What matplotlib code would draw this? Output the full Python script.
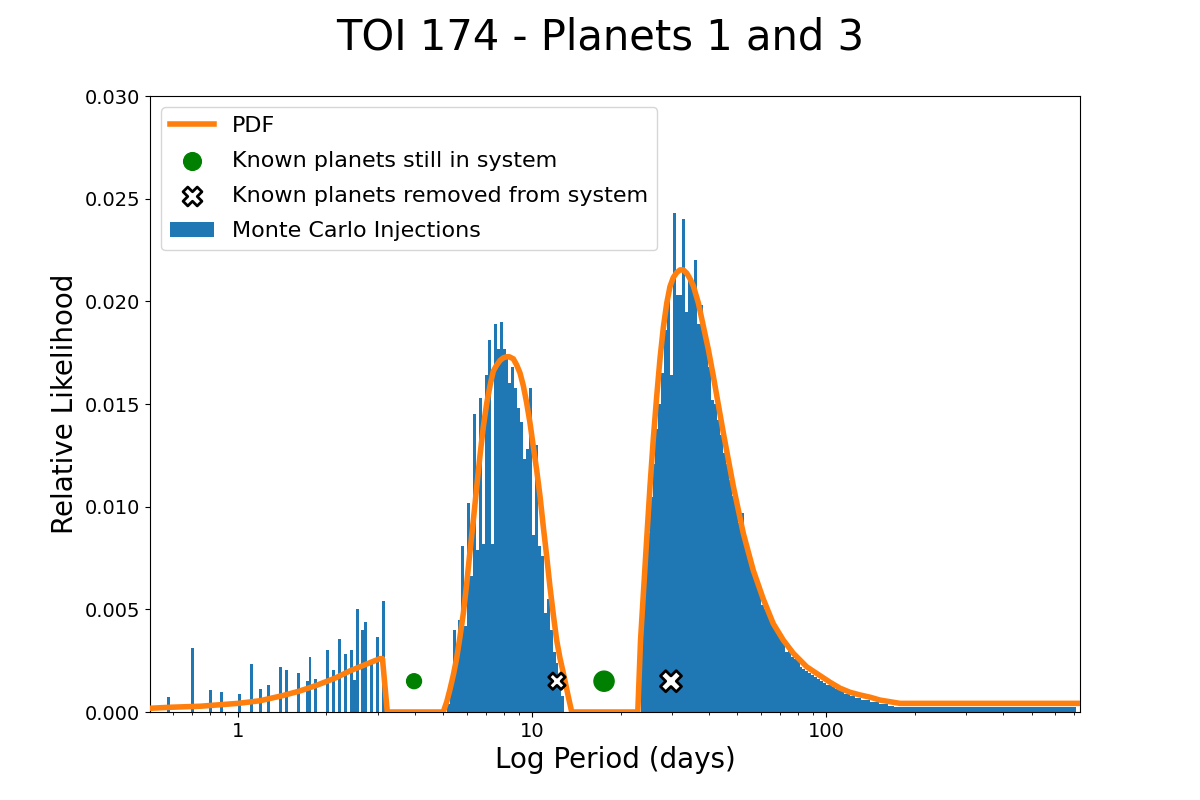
import numpy as np
import matplotlib
matplotlib.use('Agg')
import matplotlib.pyplot as plt

# Histogram bins: 0.01 dex wide in log period
bin_edges = np.logspace(-0.30, 2.87, 318)

# Sparse injections at short period (period in days, likelihood)
sparse_periods = [0.587, 0.694, 0.799, 0.891, 1.002, 1.099, 1.181, 1.285, 1.382,
                  1.479, 1.587, 1.707, 1.775, 1.861, 1.997, 2.093, 2.194, 2.299,
                  2.410, 2.467, 2.559, 2.689, 2.746, 2.879, 2.954, 3.096]
sparse_heights = [0.00075, 0.00312, 0.00107, 0.00098, 0.00088, 0.00234, 0.00112,
                  0.00132, 0.0022, 0.00205, 0.0019, 0.0015, 0.0027, 0.0016, 0.0030,
                  0.00205, 0.00356, 0.00283, 0.0030, 0.00156, 0.00502, 0.0040,
                  0.00439, 0.00254, 0.00366, 0.0054]

# First peak, consecutive bins from peak1_start
peak1_start = 5.2
peak1_heights = [0.0004, 0.0012, 0.0040, 0.0029, 0.0045, 0.0081, 0.0042, 0.0102,
                 0.0066, 0.0145, 0.0079, 0.0153, 0.0082, 0.0164, 0.0181, 0.0082,
                 0.0189, 0.0177, 0.0190, 0.0177, 0.0173, 0.0160, 0.0168, 0.0158,
                 0.0148, 0.0141, 0.0123, 0.0128, 0.0158, 0.0086, 0.0130, 0.0081,
                 0.0076, 0.0048, 0.0055, 0.0040, 0.0029, 0.0024, 0.0016, 0.0008]

# Second peak and long tail, consecutive bins from peak2_start
peak2_start = 23.5
peak2_heights = [0.0045, 0.0066, 0.0087, 0.01045, 0.0121, 0.0138, 0.0150, 0.0165,
                 0.0186, 0.0202, 0.0164, 0.0243, 0.0203, 0.0203, 0.0240, 0.0195,
                 0.0210, 0.0207, 0.0220, 0.0189, 0.0198, 0.0187, 0.0178, 0.0168,
                 0.0152, 0.0150, 0.0142, 0.0135, 0.0126, 0.0121, 0.0113, 0.0105,
                 0.0101, 0.0092, 0.0097, 0.0081, 0.0078, 0.0072, 0.0066, 0.0063,
                 0.0060, 0.0052, 0.0050, 0.0048, 0.0045, 0.0041, 0.0039, 0.0037,
                 0.0035, 0.0029, 0.0032, 0.0027, 0.0026, 0.0025, 0.0022, 0.0021,
                 0.0020, 0.0019, 0.0018, 0.0017, 0.0016, 0.0015, 0.0014, 0.0013,
                 0.0013, 0.0012, 0.0011, 0.0011, 0.0010, 0.0009, 0.0009, 0.0008,
                 0.0008, 0.0007, 0.0007, 0.0006, 0.0006, 0.0006, 0.0005, 0.0005,
                 0.0005, 0.0004, 0.0004, 0.0004, 0.0003, 0.0003, 0.00026]
tail_heights = [0.00026] * 61

# PDF curve
pdf_period = [0.50, 0.587, 0.743, 1.0, 1.19, 1.42, 1.62, 1.85, 2.14, 2.40, 2.70,
              3.04, 3.10, 3.22,
              4.99, 5.13, 5.26, 5.40, 5.54, 5.69, 5.84, 6.0, 6.15, 6.32, 6.49,
              6.65, 6.83, 7.02, 7.20, 7.385, 7.59, 7.785, 7.99, 8.20, 8.37, 8.64,
              8.87, 9.10, 9.34, 9.59, 9.84, 10.10, 10.37, 10.65, 10.93, 11.22,
              11.51, 11.82, 12.13, 12.45, 12.78, 13.29, 13.65,
              22.9, 23.4, 24.55, 25.2, 25.86, 26.56, 27.25, 27.97, 28.72,
              29.47, 30.24, 31.06, 31.87, 32.71, 33.6, 34.47, 35.38, 36.79, 38.25,
              39.79, 41.37, 43.02, 44.74, 48.38, 52.33, 56.58, 61.19, 66.18,
              71.58, 77.41, 85.99, 95.42, 103.2, 111.6, 120.7, 130.5, 141.2,
              152.7, 165.1, 178.5, 731]
pdf_value = [0.00018, 0.00023, 0.00028, 0.00042, 0.00055, 0.0008, 0.00102, 0.0013,
             0.00165, 0.0020, 0.0023, 0.0026, 0.0026, 0.0,
             0.0, 0.0005, 0.0011, 0.0018, 0.0026, 0.00367, 0.0048, 0.00628,
             0.0078, 0.00937, 0.0110, 0.01245, 0.0139, 0.01506, 0.0159, 0.0166,
             0.0169, 0.01712, 0.01725, 0.0173, 0.0173, 0.0172, 0.0169, 0.01652,
             0.0159, 0.01506, 0.0141, 0.01294, 0.0118, 0.0105, 0.0090, 0.00758,
             0.0061, 0.00473, 0.0035, 0.00262, 0.0019, 0.00075, 0.0,
             0.0, 0.0035, 0.0084, 0.0110, 0.0133, 0.01538, 0.0172,
             0.01872, 0.0199, 0.02072, 0.02116, 0.0214, 0.02153, 0.02153, 0.02137,
             0.0211, 0.02075, 0.01993, 0.0188, 0.01766, 0.01636, 0.01498, 0.0136,
             0.0110, 0.0087, 0.0069, 0.0055, 0.0043, 0.0035, 0.00286, 0.0022,
             0.00177, 0.00145, 0.00116, 0.00096, 0.00083, 0.00072, 0.00058,
             0.0005, 0.00042, 0.00042]

# Known planets
kept_periods = [3.97, 17.58]
kept_sizes = [115, 210]
removed_periods = [12.16, 29.7]
removed_sizes = [140, 230]
marker_y = 0.0015

# assemble full histogram weights
centers = np.sqrt(bin_edges[:-1] * bin_edges[1:])
heights = np.zeros(len(centers))
idx = np.digitize(sparse_periods, bin_edges) - 1
heights[idx] = sparse_heights
i1 = np.digitize(peak1_start, bin_edges) - 1
heights[i1:i1 + len(peak1_heights)] = peak1_heights
i2 = np.digitize(peak2_start, bin_edges) - 1
far = peak2_heights + tail_heights
heights[i2:i2 + len(far)] = far

fig, ax = plt.subplots(figsize=(12, 8), dpi=100)

ax.plot(pdf_period, pdf_value, color='C1', lw=4, label='PDF', zorder=4)
ax.scatter(kept_periods, [marker_y] * len(kept_periods), s=kept_sizes,
           color='green', label='Known planets still in system', zorder=5)
ax.scatter(removed_periods, [marker_y] * len(removed_periods), s=removed_sizes,
           marker='X', facecolor='white', edgecolor='black', linewidth=2,
           label='Known planets removed from system', zorder=5)
ax.hist(centers, bins=bin_edges, weights=heights, color='C0',
        label='Monte Carlo Injections')

ax.set_xscale('log')
ax.set_xlim(0.502, 731)
ax.set_ylim(0, 0.03)
ax.set_yticks(np.arange(0, 0.0301, 0.005))
ax.yaxis.set_major_formatter(matplotlib.ticker.FormatStrFormatter('%.3f'))
ax.xaxis.set_major_formatter(matplotlib.ticker.FuncFormatter(lambda v, p: '%g' % v))
ax.tick_params(labelsize=14)

ax.set_xlabel('Log Period (days)', fontsize=20)
ax.set_ylabel('Relative Likelihood', fontsize=20)
fig.suptitle('TOI 174 - Planets 1 and 3', fontsize=30)
ax.legend(loc='upper left', fontsize=16, labelspacing=0.68)

plt.savefig('out.png')
